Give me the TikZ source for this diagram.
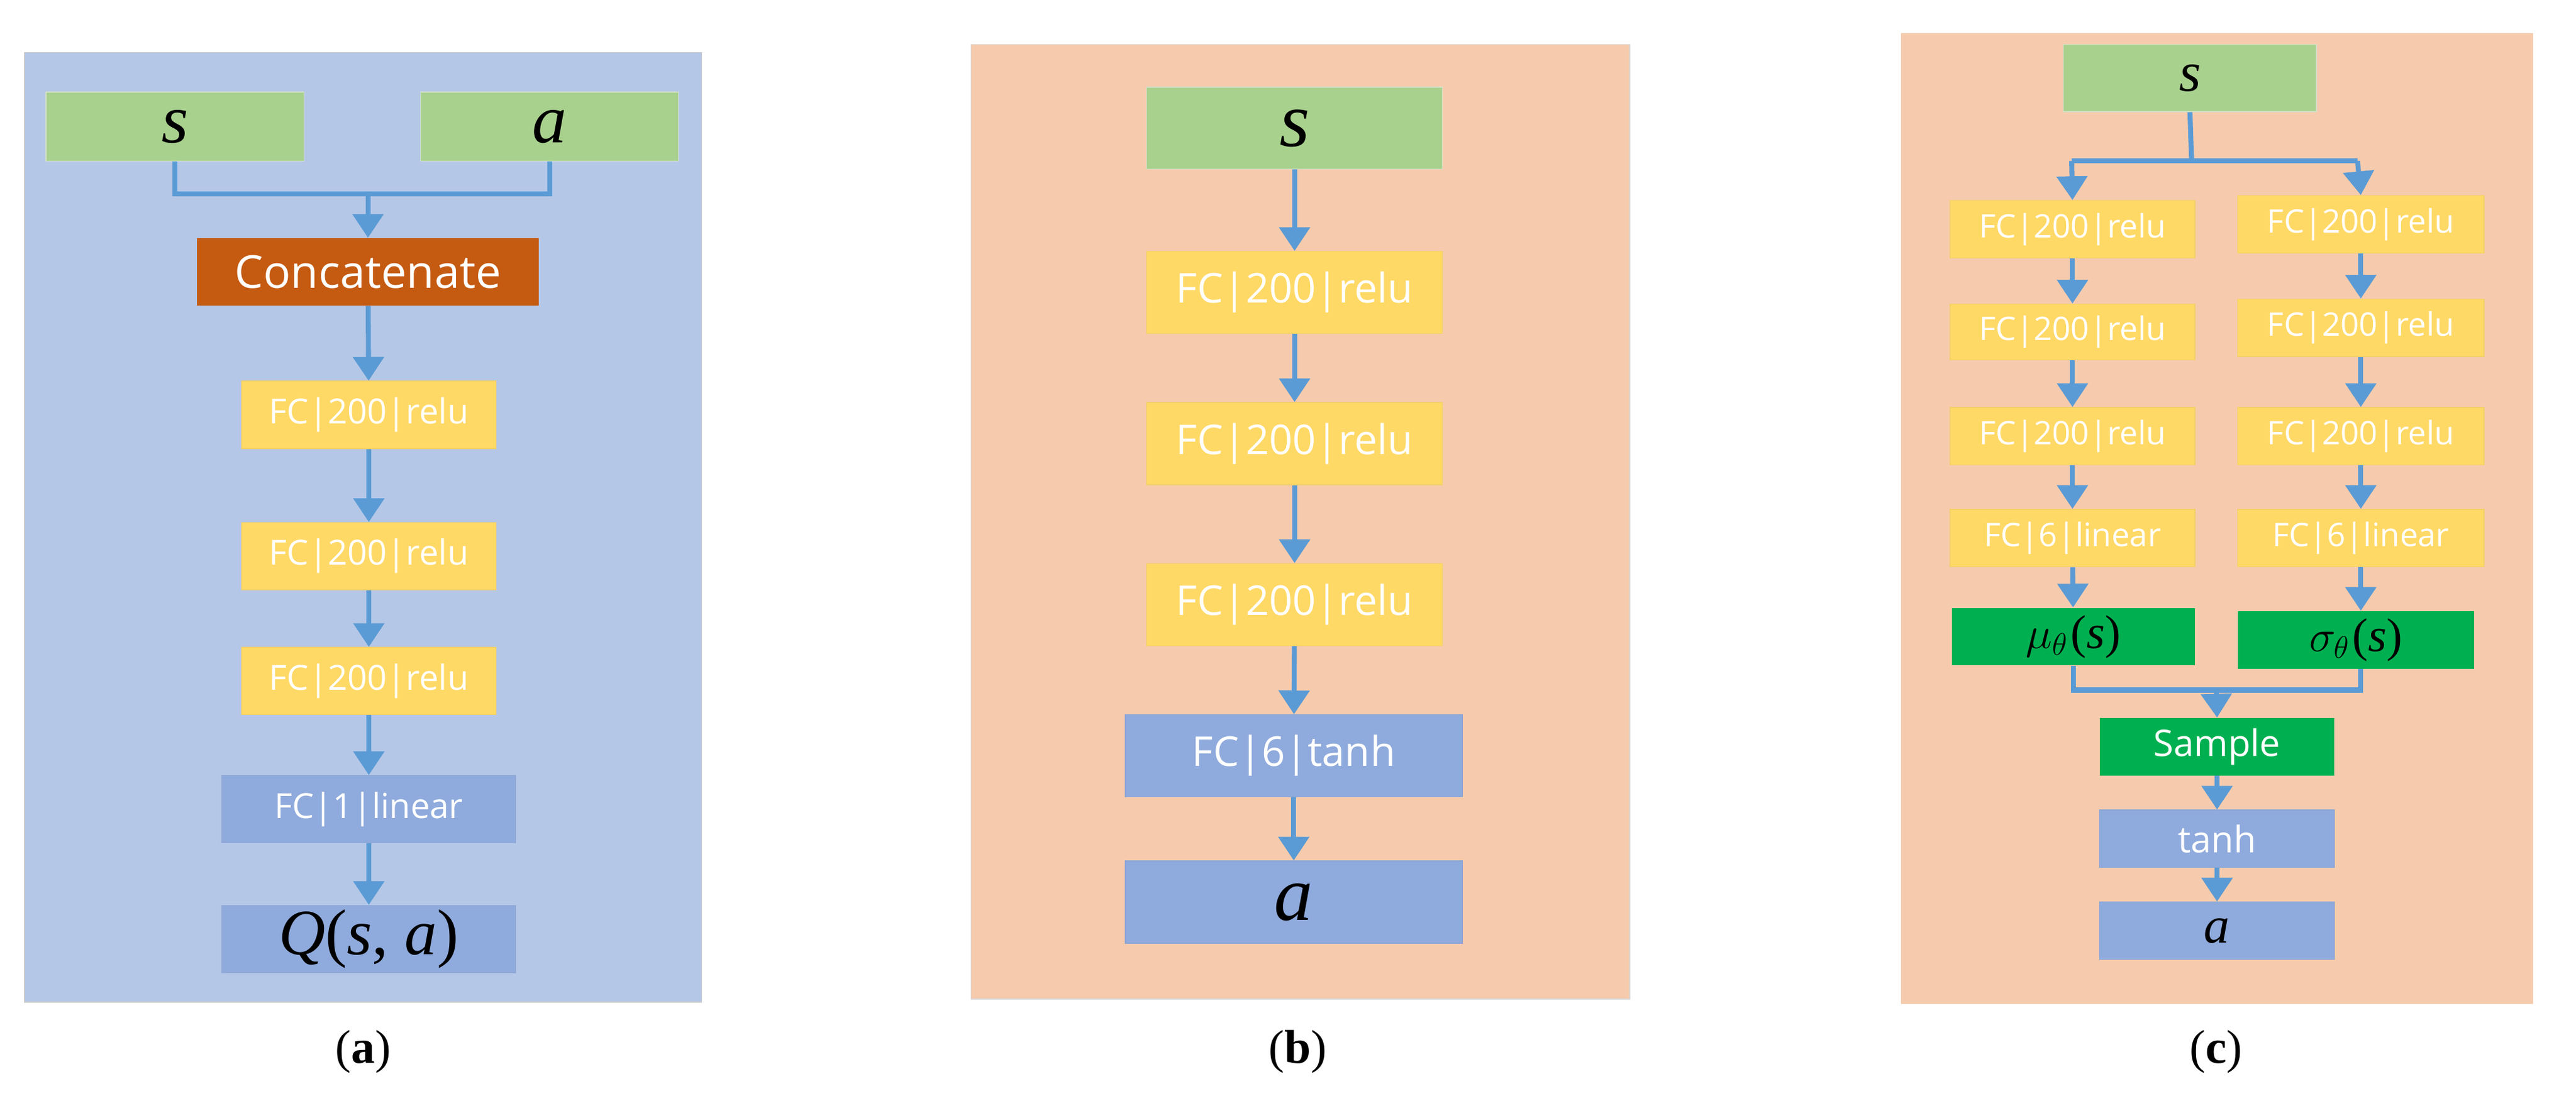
\documentclass[tikz,border=0pt]{standalone}
\usepackage{fontspec}
\setmainfont{Liberation Serif}
\newfontfamily\boxfont{Open Sans}
\usetikzlibrary{arrows.meta}
\definecolor{bga}{HTML}{B4C7E7}
\definecolor{bgb}{HTML}{F6CBAD}
\definecolor{grn}{HTML}{A9D18E}
\definecolor{ylw}{HTML}{FFD966}
\definecolor{org}{HTML}{C55A11}
\definecolor{blu}{HTML}{8FAADC}
\definecolor{dgr}{HTML}{00B050}
\definecolor{lnc}{HTML}{5B9BD5}
\newcommand\bx[7]{\node[#6, minimum width={(#4-#2)*0.02677cm}, minimum height={(#5-#3)*0.02677cm}] (#1) at ({(#2+#4)/2},{(#3+#5)/2}) {#7};}
\tikzset{
 box/.style={rectangle, inner sep=0pt, text=white, font=\boxfont},
 bgrn/.style={box, fill=grn, draw=grn!85!black!40, text=black},
 bylw/.style={box, fill=ylw, draw=ylw!90!gray},
 borg/.style={box, fill=org},
 bblu/.style={box, fill=blu, draw=blu!90!gray},
 bdgr/.style={box, fill=dgr, text=black},
 ln/.style={draw=lnc, line width=2.3pt},
 ar/.style={ln, -{Triangle[width=14pt,length=11pt]}},
 caption/.style={font=\fontsize{22}{26}\selectfont}
}
\begin{document}
\begin{tikzpicture}[x=0.02677cm, y=-0.02677cm]
\useasboundingbox (0,0) rectangle (1568,667);
% panel a
\fill[bga, draw=gray!40] (15,32) rectangle (427,610);
\bx{sa}{28}{56}{185}{98}{bgrn, font=\fontsize{32}{36}\selectfont\itshape}{s}
\bx{aa}{256}{56}{413}{98}{bgrn, font=\fontsize{32}{36}\selectfont\itshape}{a}
\bx{cat}{120}{145}{328}{186}{borg, font=\boxfont\fontsize{21}{24}\selectfont}{Concatenate}
\bx{a1}{147}{232}{302}{273}{bylw, font=\boxfont\fontsize{16}{20}\selectfont}{FC|200|relu}
\bx{a2}{147}{318}{302}{359}{bylw, font=\boxfont\fontsize{16}{20}\selectfont}{FC|200|relu}
\bx{a3}{147}{394}{302}{435}{bylw, font=\boxfont\fontsize{16}{20}\selectfont}{FC|200|relu}
\bx{a4}{135}{472}{314}{513}{bblu, font=\boxfont\fontsize{16}{20}\selectfont}{FC|1|linear}
\bx{a5}{135}{551}{314}{592}{bblu, text=black, font=\fontsize{30}{34}\selectfont}{\textit{Q}(\textit{s}, \textit{a})}
\coordinate (ja) at (224,118);
\draw[ln] (sa.south) |- (ja) -| (aa.south);
\draw[ar] (ja) -- (cat.north);
\draw[ar] (cat) -- (a1);
\draw[ar] (a1) -- (a2);
\draw[ar] (a2) -- (a3);
\draw[ar] (a3) -- (a4);
\draw[ar] (a4) -- (a5);
\node[caption] (la) at (221,640) {(\textbf{a})};
% panel b
\fill[bgb, draw=gray!30] (591,27) rectangle (992,608);
\bx{sb}{698}{53}{878}{103}{bgrn, font=\fontsize{36}{40}\selectfont\itshape}{s}
\bx{b1}{698}{153}{878}{203}{bylw, font=\boxfont\fontsize{19}{22}\selectfont}{FC|200|relu}
\bx{b2}{698}{245}{878}{295}{bylw, font=\boxfont\fontsize{19}{22}\selectfont}{FC|200|relu}
\bx{b3}{698}{343}{878}{393}{bylw, font=\boxfont\fontsize{19}{22}\selectfont}{FC|200|relu}
\bx{b4}{685}{435}{890}{485}{bblu, font=\boxfont\fontsize{19}{22}\selectfont}{FC|6|tanh}
\bx{b5}{685}{524}{890}{574}{bblu, text=black, font=\fontsize{36}{40}\selectfont\itshape}{a}
\draw[ar] (sb) -- (b1);
\draw[ar] (b1) -- (b2);
\draw[ar] (b2) -- (b3);
\draw[ar] (b3) -- (b4);
\draw[ar] (b4) -- (b5);
\node[caption] (lb) at (790,640) {(\textbf{b})};
% panel c
\fill[bgb] (1157,20) rectangle (1542,611);
\bx{sc}{1256}{27}{1410}{68}{bgrn, font=\fontsize{26}{30}\selectfont\itshape}{s}
\bx{l1}{1187}{122}{1336}{157}{bylw, font=\boxfont\fontsize{15}{18}\selectfont}{FC|200|relu}
\bx{l2}{1187}{185}{1336}{219}{bylw, font=\boxfont\fontsize{15}{18}\selectfont}{FC|200|relu}
\bx{l3}{1187}{248}{1336}{283}{bylw, font=\boxfont\fontsize{15}{18}\selectfont}{FC|200|relu}
\bx{l4}{1187}{310}{1336}{345}{bylw, font=\boxfont\fontsize{15}{18}\selectfont}{FC|6|linear}
\bx{mu}{1188}{370}{1336}{405}{bdgr, font=\fontsize{22}{26}\selectfont}{$\mu_\theta$\kern1pt(\textit{s})}
\bx{r1}{1362}{119}{1512}{154}{bylw, font=\boxfont\fontsize{15}{18}\selectfont}{FC|200|relu}
\bx{r2}{1362}{182}{1512}{217}{bylw, font=\boxfont\fontsize{15}{18}\selectfont}{FC|200|relu}
\bx{r3}{1362}{248}{1512}{283}{bylw, font=\boxfont\fontsize{15}{18}\selectfont}{FC|200|relu}
\bx{r4}{1362}{310}{1512}{345}{bylw, font=\boxfont\fontsize{15}{18}\selectfont}{FC|6|linear}
\bx{sg}{1362}{372}{1506}{407}{bdgr, font=\fontsize{22}{26}\selectfont}{$\sigma_\theta$\kern1pt(\textit{s})}
\bx{sm}{1278}{437}{1421}{472}{bdgr, text=white, font=\boxfont\fontsize{17}{20}\selectfont}{Sample}
\bx{th}{1278}{493}{1421}{528}{bblu, font=\boxfont\fontsize{17}{20}\selectfont}{tanh}
\bx{ac}{1278}{549}{1421}{584}{bblu, text=black, font=\fontsize{24}{28}\selectfont\itshape}{a}
\coordinate (jc) at (1334,98);
\coordinate (jl) at (1261,98);
\coordinate (jr) at (1435,98);
\coordinate (jm) at (1349,420);
\draw[ln] (sc.south) -- (jc);
\draw[ln] (jl) -- (jr);
\draw[ar] (jl) -- (l1.north);
\draw[ar] (jr) -- (r1.north);
\draw[ar] (l1) -- (l2);
\draw[ar] (l2) -- (l3);
\draw[ar] (l3) -- (l4);
\draw[ar] (l4) -- (mu);
\draw[ar] (r1) -- (r2);
\draw[ar] (r2) -- (r3);
\draw[ar] (r3) -- (r4);
\draw[ar] (r4.south) -- (r4.south |- sg.north);
\draw[ln] (mu.south) |- (jm);
\draw[ln] (r4.south |- sg.south) |- (jm);
\draw[ar] (jm) -- (sm.north);
\draw[ar] (sm) -- (th);
\draw[ar] (th) -- (ac);
\node[caption] (lc) at (1349,640) {(\textbf{c})};
\end{tikzpicture}
\end{document}
